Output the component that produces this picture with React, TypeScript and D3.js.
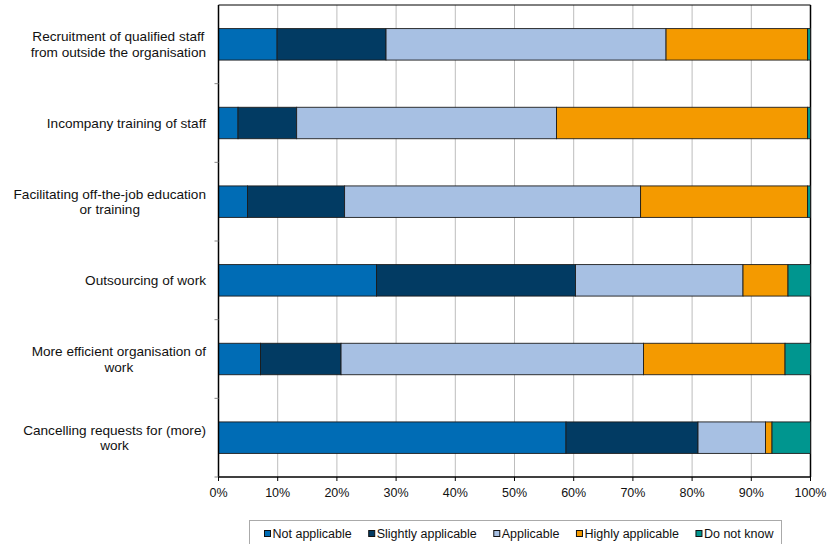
import React, { useMemo } from "react";
import * as d3 from "d3";

const categories: string[][] = [
  ["Recruitment of qualified staff", "from outside the organisation"],
  ["Incompany training of staff"],
  ["Facilitating off-the-job education", "or training"],
  ["Outsourcing of work"],
  ["More efficient organisation of", "work"],
  ["Cancelling requests for (more)", "work"],
];
const seriesNames = ["Not applicable", "Slightly applicable", "Applicable", "Highly applicable", "Do not know"];
const notApplicable = [9.9, 3.3, 4.9, 26.7, 7.1, 58.7];
const slightlyApplicable = [18.4, 9.9, 16.4, 33.6, 13.6, 22.3];
const applicable = [47.3, 43.9, 50.0, 28.3, 51.1, 11.4];
const highlyApplicable = [23.9, 42.4, 28.2, 7.6, 23.9, 1.1];
const doNotKnow = [0.5, 0.5, 0.5, 3.8, 4.3, 6.5];
const xTicks = [0, 10, 20, 30, 40, 50, 60, 70, 80, 90, 100];
const colors = ["#006cb5", "#023b63", "#a7c0e3", "#f49a00", "#00968f"];

const FONT = "'Liberation Sans', Arial, sans-serif";
const FS = 12.5;
const LFS = 13.6;

function measure(text: string, size: number): number {
  const c = document.createElement("canvas").getContext("2d");
  if (!c) return text.length * size * 0.52;
  c.font = `${size}px 'Liberation Sans', Arial, sans-serif`;
  return c.measureText(text).width;
}

export default function App() {
  const W = 827, H = 544;
  const left = 218.5, right = 810.5, top = 5, bottom = 477;
  const keys = seriesNames;
  const rows = categories.map((c, i) => ({
    idx: i,
    [keys[0]]: notApplicable[i],
    [keys[1]]: slightlyApplicable[i],
    [keys[2]]: applicable[i],
    [keys[3]]: highlyApplicable[i],
    [keys[4]]: doNotKnow[i],
  }));
  const stacked = d3.stack<any>().keys(keys)(rows);
  const x = d3.scaleLinear().domain([0, 100]).range([left, right]);
  const y = d3
    .scaleBand<number>()
    .domain(categories.map((_, i) => i))
    .range([top, bottom])
    .paddingInner(0.6)
    .paddingOuter(0.3);
  const step = y.step();

  const labelRight = 206;
  const labelWidths = useMemo(() => categories.map((lines) => Math.max(...lines.map((l) => measure(l, LFS)))), []);

  const legendItems = useMemo(() => {
    let cx = 264;
    return seriesNames.map((name, i) => {
      const w = measure(name, FS);
      const item = { name, x: cx, color: colors[i] };
      cx = cx + 8 + w + 17;
      return item;
    });
  }, []);

  return (
    <svg width={W} height={H} style={{ position: "absolute", left: 0, top: 0, background: "#fff" }} fontFamily={FONT}>
      <rect x={0} y={0} width={W} height={H} fill="#fff" />
      {xTicks.slice(1, -1).map((t) => (
        <line key={t} x1={x(t)} x2={x(t)} y1={top} y2={bottom} stroke="#bdbdbd" strokeWidth={1} />
      ))}
      <line x1={left} x2={right} y1={top} y2={top} stroke="#000" strokeWidth={1} />
      <line x1={right} x2={right} y1={top} y2={bottom} stroke="#000" strokeWidth={1.5} />
      {stacked.map((s, si) => (
        <g key={s.key}>
          {s.map((d, i) => (
            <rect
              key={i}
              x={x(d[0])}
              y={y(i)!}
              width={Math.max(0, x(d[1]) - x(d[0]))}
              height={y.bandwidth()}
              fill={colors[si]}
              stroke="#1c1c1c"
              strokeWidth={0.9}
            />
          ))}
        </g>
      ))}
      <line x1={left} x2={left} y1={top} y2={bottom} stroke="#000" strokeWidth={1.5} />
      <line x1={left} x2={right} y1={bottom} y2={bottom} stroke="#000" strokeWidth={1.5} />
      {categories.map((_, i) => (
        <line key={i} x1={left - 4} x2={left} y1={top + step * (i + 1)} y2={top + step * (i + 1)} stroke="#888" strokeWidth={1} />
      ))}
      {xTicks.map((t) => (
        <g key={t}>
          <line x1={x(t)} x2={x(t)} y1={bottom} y2={bottom + 4} stroke="#000" strokeWidth={1} />
          <text x={x(t)} y={bottom + 20} textAnchor="middle" fontSize={FS} fill="#111">
            {t}%
          </text>
        </g>
      ))}
      {categories.map((lines, i) => {
        const cy = y(i)! + y.bandwidth() / 2;
        const cx = labelRight - labelWidths[i] / 2;
        const lh = 15.5;
        const y0 = cy - ((lines.length - 1) * lh) / 2 + 4.8;
        return (
          <text key={i} textAnchor="middle" fontSize={LFS} fill="#111">
            {lines.map((l, j) => (
              <tspan key={j} x={cx} y={y0 + j * lh}>
                {l}
              </tspan>
            ))}
          </text>
        );
      })}
      <rect x={249.5} y={520.5} width={532} height={30} fill="#fff" stroke="#aaa" strokeWidth={1} />
      {legendItems.map((it) => (
        <g key={it.name}>
          <rect x={it.x + 0.5} y={530.5} width={6} height={6} fill={it.color} stroke="#111" strokeWidth={1} />
          <text x={it.x + 8.5} y={538} fontSize={FS} fill="#111">
            {it.name}
          </text>
        </g>
      ))}
    </svg>
  );
}
